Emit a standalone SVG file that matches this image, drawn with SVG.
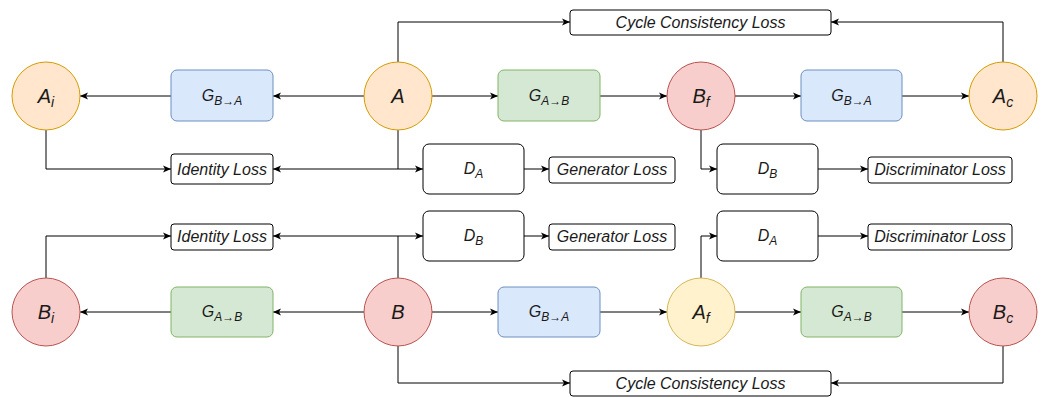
<svg xmlns="http://www.w3.org/2000/svg" width="1042" height="398" viewBox="0 0 1042 398">
<defs>
<marker id="arr" markerUnits="userSpaceOnUse" markerWidth="9" markerHeight="8" refX="8" refY="4" orient="auto">
<path d="M0,0.5 L8,4 L0,7.5 L2,4 z" fill="#000"/>
</marker>
<style>
.orange{fill:#ffe6cc;stroke:#d79b00;stroke-width:1}
.red{fill:#f8cecc;stroke:#b85450;stroke-width:1}
.yellow{fill:#fff2cc;stroke:#d6b656;stroke-width:1}
.blue{fill:#dae8fc;stroke:#6c8ebf;stroke-width:1}
.green{fill:#d5e8d4;stroke:#82b366;stroke-width:1}
.white{fill:#fff;stroke:#000;stroke-width:1}
.lbl{font-family:"Liberation Sans",Arial,sans-serif;font-style:italic;fill:#1a1a1a;text-anchor:middle}
.big{font-size:20px}
.mid{font-size:16px}
.sub{font-size:12px}
.subb{font-size:14px}
.conn path{fill:none;stroke:#000;stroke-width:1;marker-end:url(#arr)}
</style>
</defs>
<rect width="1042" height="398" fill="#fff"/>

<g class="conn">
<path d="M364,96 H273"/>
<path d="M171,96 H80"/>
<path d="M432,96 H498"/>
<path d="M600,96 H667"/>
<path d="M735,96 H801"/>
<path d="M902,96 H969"/>
<path d="M398,62 V22 H570"/>
<path d="M1003,62 V22 H831"/>
<path d="M398,129 V169 H423"/>
<path d="M398,169 H273"/>
<path d="M46,130 V169 H171"/>
<path d="M524,169 H549"/>
<path d="M701,130 V169 H717"/>
<path d="M818,169 H868"/>

<path d="M364,312 H273"/>
<path d="M171,312 H80"/>
<path d="M432,312 H498"/>
<path d="M600,312 H667"/>
<path d="M735,312 H801"/>
<path d="M902,312 H969"/>
<path d="M46,278 V236 H171"/>
<path d="M398,278 V236 H423"/>
<path d="M398,236 H273"/>
<path d="M524,236 H549"/>
<path d="M701,278 V236 H717"/>
<path d="M818,236 H868"/>
<path d="M398,346 V383 H570"/>
<path d="M1003,346 V383 H831"/>
</g>

<!-- top row -->
<g id="Ai"><circle class="orange" cx="46" cy="96" r="34"/><text class="lbl big" x="46" y="103">A<tspan class="subb" dy="4">i</tspan></text></g>
<g id="G_BA_top_left"><rect class="blue" x="171" y="70" width="102" height="51" rx="6"/><text class="lbl mid" x="222" y="101">G<tspan class="sub" dy="4">B→A</tspan></text></g>
<g id="A"><circle class="orange" cx="398" cy="96" r="34"/><text class="lbl big" x="398" y="103">A</text></g>
<g id="G_AB_top"><rect class="green" x="498" y="70" width="102" height="51" rx="6"/><text class="lbl mid" x="549" y="101">G<tspan class="sub" dy="4">A→B</tspan></text></g>
<g id="Bf"><circle class="red" cx="701" cy="96" r="34"/><text class="lbl big" x="701" y="103">B<tspan class="subb" dy="4">f</tspan></text></g>
<g id="G_BA_top_right"><rect class="blue" x="801" y="70" width="101" height="51" rx="6"/><text class="lbl mid" x="851.5" y="101">G<tspan class="sub" dy="4">B→A</tspan></text></g>
<g id="Ac"><circle class="orange" cx="1003" cy="96" r="34"/><text class="lbl big" x="1003" y="103">A<tspan class="subb" dy="4">c</tspan></text></g>
<g id="CycleLossTop"><rect class="white" x="570" y="10" width="261" height="25" rx="3"/><text class="lbl mid" x="700.5" y="28">Cycle Consistency Loss</text></g>
<g id="IdentityLossTop"><rect class="white" x="171" y="154" width="102" height="30" rx="3"/><text class="lbl mid" x="222" y="175">Identity Loss</text></g>
<g id="DA_top"><rect class="white" x="423" y="144" width="101" height="50" rx="6"/><text class="lbl mid" x="473.5" y="174">D<tspan class="sub" dy="4">A</tspan></text></g>
<g id="GenLossTop"><rect class="white" x="549" y="157" width="126" height="26" rx="3"/><text class="lbl mid" x="612" y="175">Generator Loss</text></g>
<g id="DB_top"><rect class="white" x="717" y="144" width="101" height="50" rx="6"/><text class="lbl mid" x="767.5" y="174">D<tspan class="sub" dy="4">B</tspan></text></g>
<g id="DiscLossTop"><rect class="white" x="868" y="157" width="144" height="26" rx="3"/><text class="lbl mid" x="940" y="175">Discriminator Loss</text></g>

<!-- bottom row -->
<g id="Bi"><circle class="red" cx="46" cy="312" r="34"/><text class="lbl big" x="46" y="319">B<tspan class="subb" dy="4">i</tspan></text></g>
<g id="G_AB_bot_left"><rect class="green" x="171" y="287" width="102" height="50" rx="6"/><text class="lbl mid" x="222" y="317">G<tspan class="sub" dy="4">A→B</tspan></text></g>
<g id="B"><circle class="red" cx="398" cy="312" r="34"/><text class="lbl big" x="398" y="319">B</text></g>
<g id="G_BA_bot"><rect class="blue" x="498" y="287" width="102" height="50" rx="6"/><text class="lbl mid" x="549" y="317">G<tspan class="sub" dy="4">B→A</tspan></text></g>
<g id="Af"><circle class="yellow" cx="701" cy="312" r="34"/><text class="lbl big" x="701" y="319">A<tspan class="subb" dy="4">f</tspan></text></g>
<g id="G_AB_bot_right"><rect class="green" x="801" y="287" width="101" height="50" rx="6"/><text class="lbl mid" x="851.5" y="317">G<tspan class="sub" dy="4">A→B</tspan></text></g>
<g id="Bc"><circle class="red" cx="1003" cy="312" r="34"/><text class="lbl big" x="1003" y="319">B<tspan class="subb" dy="4">c</tspan></text></g>
<g id="IdentityLossBot"><rect class="white" x="171" y="224" width="102" height="26" rx="3"/><text class="lbl mid" x="222" y="242">Identity Loss</text></g>
<g id="DB_bot"><rect class="white" x="423" y="211" width="101" height="50" rx="6"/><text class="lbl mid" x="473.5" y="241">D<tspan class="sub" dy="4">B</tspan></text></g>
<g id="GenLossBot"><rect class="white" x="549" y="224" width="126" height="26" rx="3"/><text class="lbl mid" x="612" y="242">Generator Loss</text></g>
<g id="DA_bot"><rect class="white" x="717" y="211" width="101" height="50" rx="6"/><text class="lbl mid" x="767.5" y="241">D<tspan class="sub" dy="4">A</tspan></text></g>
<g id="DiscLossBot"><rect class="white" x="868" y="224" width="144" height="26" rx="3"/><text class="lbl mid" x="940" y="242">Discriminator Loss</text></g>
<g id="CycleLossBot"><rect class="white" x="570" y="371" width="261" height="25" rx="3"/><text class="lbl mid" x="700.5" y="389">Cycle Consistency Loss</text></g>
</svg>
